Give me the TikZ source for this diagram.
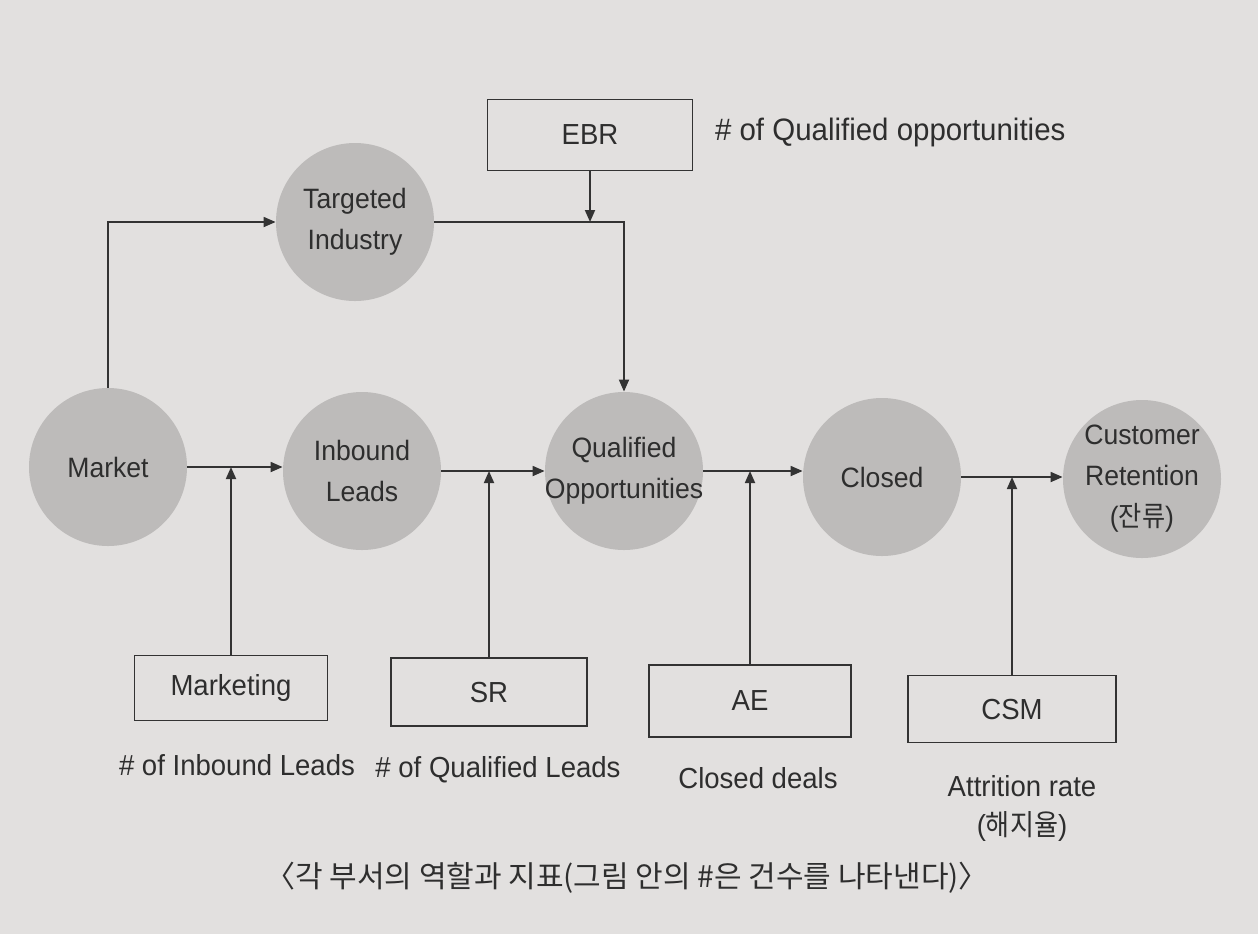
\documentclass[tikz,border=0pt]{standalone}
\usepackage{fontspec}
\setmainfont{Liberation Sans}[FakeStretch=0.95]
\newfontfamily\kr{Noto Sans CJK KR}
\newfontfamily\krn{Noto Sans CJK KR}[FakeStretch=0.9]
\usetikzlibrary{arrows.meta}
\definecolor{paper}{HTML}{E2E0DF}
\definecolor{circfill}{HTML}{BDBBBA}
\definecolor{linec}{HTML}{333333}
\definecolor{txt}{HTML}{2E2E2E}
\begin{document}
\begin{tikzpicture}[x=0.5pt,y=-0.5pt,
  stage/.style={circle, fill=circfill, minimum size=79pt, inner sep=0pt, align=center, text=txt, font=\fontsize{14}{20.5}\selectfont},
  rolebox/.style={draw=linec, line width=0.9pt, fill=paper, inner sep=0pt, text=txt, font=\fontsize{14.5}{17}\selectfont},
  lbl/.style={align=center, text=txt, font=\fontsize{14.5}{19.5}\selectfont},
  conn/.style={draw=linec, line width=0.9pt},
  arr/.style={conn, -{Triangle[length=6pt,width=5pt]}}]
\fill[paper] (0,0) rectangle (1258,934);
\useasboundingbox (0,0) rectangle (1258,934);

% stages
\node[stage] (ti) at (355,222) {Targeted\\Industry};
\node[stage] (mk) at (108,467) {Market};
\node[stage] (il) at (362,471) {Inbound\\Leads};
\node[stage, inner sep=-4pt] (qo) at (624,471) {Qualified\\Opportunities};
\node[stage] (cl) at (882,477) {Closed};
\node[stage] (cr) at (1142,479) {Customer\\Retention\\({\krn 잔류})};

% role boxes
\node[rolebox, minimum width=102.5pt, minimum height=35.5pt] (ebr) at (590,135) {EBR};
\node[rolebox, minimum width=96.5pt, minimum height=32.5pt] (mkt) at (231,688) {Marketing};
\node[rolebox, minimum width=98pt, minimum height=34pt] (sr) at (489,692) {SR};
\node[rolebox, minimum width=101pt, minimum height=36pt] (ae) at (750,701) {AE};
\node[rolebox, minimum width=104pt, minimum height=33.5pt] (csm) at (1012,709) {CSM};

% metric labels
\node[lbl, anchor=west, font=\fontsize{15.5}{19}\selectfont] (mebr) at (708,132) {\# of Qualified opportunities};
\node[lbl] (mmkt) at (237,765) {\# of Inbound Leads};
\node[lbl] (msr) at (498,770) {\# of Qualified Leads};
\node[lbl] (mae) at (758,778) {Closed deals};
\node[lbl] (mcsm) at (1022,808) {Attrition rate\\({\krn 해지율})};

% caption
\node[lbl, font=\kr\fontsize{15}{18}\selectfont] (cap) at (627,878) {〈각 부서의 역할과 지표(그림 안의 \#은 건수를 나타낸다)〉};

% junctions
\coordinate (j1) at (mkt.north |- mk.east);
\coordinate (j2) at (sr.north |- il.east);
\coordinate (j3) at (ae.north |- qo.east);
\coordinate (j4) at (csm.north |- cl.east);
\coordinate (jt) at (ebr.south |- ti.east);

% connectors
\draw[arr] (mk.north) |- (ti.west);
\draw[arr] (ti.east) -| (qo.north);
\draw[arr] (ebr.south) -- (jt);

\draw[arr] (mk.east) -- (mk.east -| il.west);
\draw[arr] (il.east) -- (il.east -| qo.west);
\draw[arr] (qo.east) -- (qo.east -| cl.west);
\draw[arr] (cl.east) -- (cl.east -| cr.west);

\draw[arr] (mkt.north) -- (j1);
\draw[arr] (sr.north) -- (j2);
\draw[arr] (ae.north) -- (j3);
\draw[arr] (csm.north) -- (j4);
\end{tikzpicture}
\end{document}
